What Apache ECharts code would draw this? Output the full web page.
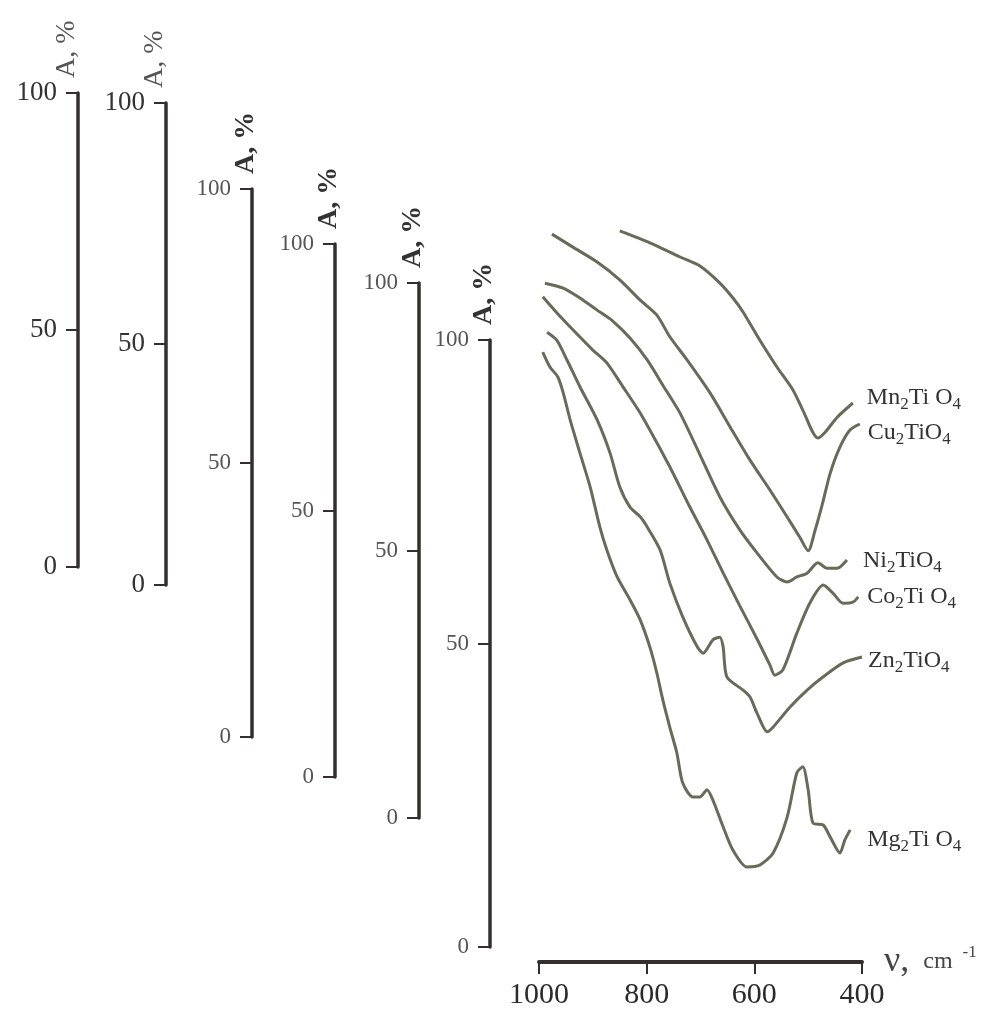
<!DOCTYPE html>
<html>
<head>
<meta charset="utf-8">
<script src="https://cdn.jsdelivr.net/npm/echarts@6/dist/echarts.min.js"></script>
<style>
  html, body { margin: 0; background: #fff; }
  #chart { width: 996px; height: 1014px; }
</style>
</head>
<body>
<div id="chart"></div>
<script>
// [wavenumber cm-1, A %], each curve read against its own staggered axis
const mnData = [[850,70.9],[794,68.4],[738,65.4],[701,63.5],[664,59.9],[640,56.8],[621,53.8],[590,47.9],[558,42.2],[528,37.3],[510,33.1],[482,27.2],[468,28.5],[446,31.6],[417,34.6]];
const cuData = [[976,72.8],[937,70.1],[892,67.0],[850,63.3],[812,59.1],[781,56.0],[757,51.5],[725,46.7],[682,39.8],[645,32.8],[608,25.9],[571,19.7],[539,14.1],[515,9.8],[500,7.1],[487,11.4],[474,16.6],[459,23.2],[441,28.6],[422,32.2],[404,33.4]];
const niData = [[989,82.8],[955,81.9],[924,80.1],[892,77.9],[863,75.9],[831,72.8],[799,68.8],[770,64.2],[738,59.1],[701,51.5],[664,43.8],[627,37.8],[595,33.6],[558,29.2],[539,28.3],[521,29.2],[502,29.9],[482,31.8],[465,30.8],[446,30.8],[428,32.3]];
const coData = [[993,90.1],[967,87.1],[937,83.9],[900,80.1],[874,77.7],[844,73.2],[812,68.3],[781,62.7],[751,57.0],[720,50.7],[688,44.5],[658,38.3],[627,32.1],[595,25.9],[571,21.0],[562,19.1],[547,20.1],[521,27.0],[497,32.6],[472,36.0],[454,34.5],[435,32.6],[417,32.8],[407,33.8]];
const znData = [[985,90.8],[967,89.3],[948,85.6],[924,80.6],[892,74.4],[868,68.2],[850,61.9],[831,58.1],[812,56.3],[799,54.4],[775,50.1],[757,43.9],[733,37.6],[706,32.0],[695,30.8],[677,33.3],[664,33.8],[658,32.0],[651,26.4],[621,23.9],[608,22.6],[595,19.6],[576,16.1],[565,17.0],[534,20.7],[502,23.9],[472,26.4],[435,29.0],[400,30.1]];
const mgData = [[993,98.0],[980,95.6],[965,93.9],[955,91.3],[942,86.8],[924,81.4],[905,75.8],[887,69.2],[874,65.4],[855,61.0],[831,57.2],[812,53.9],[794,49.4],[781,45.1],[770,40.7],[757,36.2],[744,32.0],[733,27.0],[714,24.7],[701,24.7],[688,25.9],[677,24.2],[658,19.8],[640,16.0],[614,13.2],[590,13.5],[565,15.5],[539,21.4],[521,28.7],[510,29.7],[500,25.9],[491,20.4],[472,20.1],[459,18.1],[441,15.5],[432,17.6],[422,19.3]];

const curves = [mnData, cuData, niData, coData, znData, mgData];
const curveLabels = [
  '{n|Mn}{s|2}{n|Ti O}{s|4}',
  '{n|Cu}{s|2}{n|TiO}{s|4}',
  '{n|Ni}{s|2}{n|TiO}{s|4}',
  '{n|Co}{s|2}{n|Ti O}{s|4}',
  '{n|Zn}{s|2}{n|TiO}{s|4}',
  '{n|Mg}{s|2}{n|Ti O}{s|4}'
];
const xMin = 400, xMax = 1000, xStep = 200;
const yMin = 0, yMax = 100, yStep = 50;

// layout: axis line x, pixel y of 100, pixel y of 0
const axisBox = [
  [78, 93, 567],
  [166, 103, 585],
  [252, 189, 737],
  [335, 244, 777],
  [419, 283, 818],
  [490, 340, 947]
];
const labelOffset = [[14, -5], [8, 9], [16, 1], [9, 0], [6, 4], [17, 10]];
const plotLeft = 539, plotRight = 862;
const serif = 'Liberation Serif';
const ink = '#332f2f';

const grids = [], xAxes = [], yAxes = [], series = [];
axisBox.forEach(function (b, i) {
  const big = i < 2;
  grids.push({ left: plotLeft, right: 996 - plotRight, top: b[1], bottom: 1014 - b[2] });
  xAxes.push({
    gridIndex: i,
    type: 'value',
    min: xMin, max: xMax, interval: xStep,
    inverse: true,
    show: i === 5,
    offset: 15,
    name: '{v|ν,}{c|cm}{s|-1}',
    nameLocation: 'start',
    nameGap: 22,
    nameTextStyle: {
      align: 'left',
      verticalAlign: 'middle',
      rich: {
        v: { fontFamily: serif, fontSize: 36, color: '#444' },
        c: { fontFamily: serif, fontSize: 24, color: '#444', padding: [0, 0, 0, 14] },
        s: { fontFamily: serif, fontSize: 17, color: '#444', padding: [0, 0, 18, 10] }
      }
    },
    axisLine: { show: true, onZero: false, lineStyle: { color: ink, width: 4 } },
    axisTick: { show: true, length: 12, lineStyle: { color: ink, width: 2 } },
    axisLabel: {
      fontFamily: serif, fontSize: 30, color: '#2a2a2a', margin: 18,
      formatter: function (v) { return String(v); }
    },
    splitLine: { show: false }
  });
  yAxes.push({
    gridIndex: i,
    type: 'value',
    min: yMin, max: yMax, interval: yStep,
    offset: plotLeft - b[0],
    name: 'A, %',
    nameLocation: 'end',
    nameRotate: 90,
    nameGap: 15,
    nameTextStyle: {
      fontFamily: serif,
      fontSize: 28,
      fontWeight: big ? 'normal' : 'bold',
      color: big ? '#555' : '#333',
      verticalAlign: 'bottom',
      lineHeight: big ? 22 : 12
    },
    axisLine: { show: true, lineStyle: { color: ink, width: 3.5 } },
    axisTick: { show: true, length: 12, lineStyle: { color: ink, width: 2 } },
    axisLabel: {
      fontFamily: serif,
      fontSize: big ? 27 : 23,
      color: big ? '#333' : '#555',
      margin: 21
    },
    splitLine: { show: false }
  });
  series.push({
    type: 'line',
    xAxisIndex: i,
    yAxisIndex: i,
    data: curves[i],
    showSymbol: false,
    smooth: 0.25,
    lineStyle: { color: '#676b57', width: 3 },
    endLabel: {
      show: true,
      formatter: curveLabels[i],
      align: 'left',
      distance: 0,
      offset: labelOffset[i],
      rich: {
        n: { fontFamily: serif, fontSize: 24, color: '#333' },
        s: { fontFamily: serif, fontSize: 17, color: '#333', padding: [13, 0, 0, 0] }
      }
    }
  });
});

const myChart = echarts.init(document.getElementById('chart'));
const option = {
  backgroundColor: '#fff',
  animation: false,
  grid: grids,
  xAxis: xAxes,
  yAxis: yAxes,
  series: series
};
option && myChart.setOption(option);
</script>
</body>
</html>
